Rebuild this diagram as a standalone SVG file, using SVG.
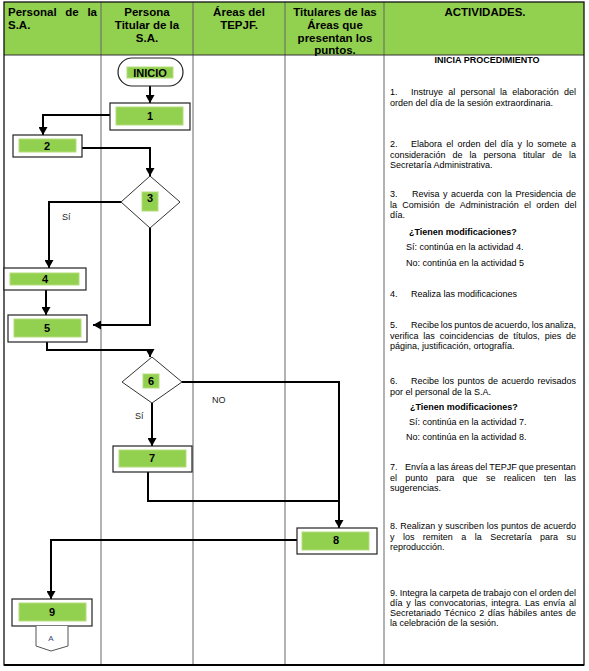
<svg xmlns="http://www.w3.org/2000/svg" width="589" height="671" viewBox="0 0 589 671">
<style>
.hdr{font-family:"Liberation Sans",Arial,sans-serif;font-weight:bold;font-size:11.5px;fill:#000}
.num{font-family:"Liberation Sans",Arial,sans-serif;font-weight:bold;font-size:11px;fill:#000;text-anchor:middle}
.act{font-family:"Liberation Sans",Arial,sans-serif;font-size:9px;fill:#000}
.actb{font-family:"Liberation Sans",Arial,sans-serif;font-size:9px;font-weight:bold;fill:#000}
.lbl{font-family:"Liberation Sans",Arial,sans-serif;font-size:9px;fill:#222}
.box{fill:#fff;stroke:#222;stroke-width:1.2}
.grn{fill:#92D050;stroke:#b5dc7c;stroke-width:1}
.conn{fill:none;stroke:#000;stroke-width:2}
.col{stroke:#666;stroke-width:1}
</style>
<defs>
<marker id="arr" markerUnits="userSpaceOnUse" markerWidth="9" markerHeight="9" refX="8" refY="4.5" orient="auto">
<path d="M0,0 L8,4.5 L0,9 z" fill="#000"/>
</marker>
</defs>
<rect x="0" y="0" width="589" height="671" fill="#fff"/>
<g id="table">
<rect x="4" y="2" width="580" height="53" fill="#92D050"/>
<line class="col" x1="101" y1="2" x2="101" y2="665"/>
<line class="col" x1="193" y1="2" x2="193" y2="665"/>
<line class="col" x1="285" y1="2" x2="285" y2="665"/>
<line class="col" x1="384" y1="2" x2="384" y2="665"/>
<line x1="4" y1="55" x2="584" y2="55" stroke="#333" stroke-width="1"/>
<rect x="4" y="2" width="580" height="663" fill="none" stroke="#111" stroke-width="1.3"/>
<line x1="4" y1="665" x2="584" y2="665" stroke="#000" stroke-width="2"/>
<text class="hdr" x="8" y="16" word-spacing="5.5">Personal de la</text>
<text class="hdr" x="8" y="29">S.A.</text>
<text class="hdr" x="147" y="16" text-anchor="middle">Persona</text>
<text class="hdr" x="147" y="29" text-anchor="middle">Titular de la</text>
<text class="hdr" x="147" y="42" text-anchor="middle">S.A.</text>
<text class="hdr" x="239" y="16" text-anchor="middle">Áreas del</text>
<text class="hdr" x="239" y="29" text-anchor="middle">TEPJF.</text>
<text class="hdr" x="335" y="16" text-anchor="middle">Titulares de las</text>
<text class="hdr" x="335" y="29" text-anchor="middle">Áreas que</text>
<text class="hdr" x="335" y="42" text-anchor="middle">presentan los</text>
<text class="hdr" x="335" y="54" text-anchor="middle">puntos.</text>
<text class="hdr" x="485" y="16" text-anchor="middle">ACTIVIDADES.</text>
</g>
<g id="connectors">
<path class="conn" d="M150,86 V103" marker-end="url(#arr)"/>
<path class="conn" d="M110,115 H43 V135" marker-end="url(#arr)"/>
<path class="conn" d="M82,148 H150 V176" marker-end="url(#arr)"/>
<path class="conn" d="M121,202 H49 V268" marker-end="url(#arr)"/>
<path class="conn" d="M46,290 V315" marker-end="url(#arr)"/>
<path class="conn" d="M150,228 V325 H93" marker-end="url(#arr)"/>
<path class="conn" d="M47,342 V350 H150 V357" marker-end="url(#arr)"/>
<path class="conn" d="M182,382 H339 V528" marker-end="url(#arr)"/>
<path class="conn" d="M152,403 V446" marker-end="url(#arr)"/>
<path class="conn" d="M148,472 V501 H339"/>
<path class="conn" d="M297,540 H51 V599" marker-end="url(#arr)"/>
<text class="lbl" x="62" y="220">Sí</text>
<text class="lbl" x="135" y="419">Sí</text>
<text class="lbl" x="212" y="403">NO</text>
</g>
<g id="inicio">
<rect x="118" y="58" width="65" height="28" rx="14" class="box"/>
<rect x="127" y="67" width="46" height="11" class="grn"/>
<text class="num" x="150" y="77">INICIO</text>
</g>
<g id="n1">
<rect x="110" y="103" width="80" height="27" class="box"/>
<rect x="116" y="107" width="67" height="18" class="grn"/>
<text class="num" x="150" y="120">1</text>
</g>
<g id="n2">
<rect x="13" y="135" width="69" height="22" class="box"/>
<rect x="19" y="139" width="57" height="13" class="grn"/>
<text class="num" x="47" y="150">2</text>
</g>
<g id="n3">
<polygon points="150,176 180,202 150,228 121,202" fill="#fff" stroke="#333" stroke-width="1"/>
<rect x="142" y="192" width="16" height="19" class="grn"/>
<text class="num" x="150" y="202">3</text>
</g>
<g id="n4">
<rect x="4" y="268" width="82" height="22" class="box"/>
<rect x="10" y="273" width="69" height="12" class="grn"/>
<text class="num" x="45" y="283">4</text>
</g>
<g id="n5">
<rect x="8" y="315" width="79" height="27" class="box"/>
<rect x="14" y="319" width="67" height="18" class="grn"/>
<text class="num" x="47" y="332">5</text>
</g>
<g id="n6">
<polygon points="152,357 182,382 152,403 122,382" fill="#fff" stroke="#333" stroke-width="1"/>
<rect x="143" y="374" width="16" height="14" class="grn"/>
<text class="num" x="151" y="385">6</text>
</g>
<g id="n7">
<rect x="113" y="446" width="79" height="26" class="box"/>
<rect x="119" y="450" width="67" height="17" class="grn"/>
<text class="num" x="152" y="462">7</text>
</g>
<g id="n8">
<rect x="297" y="528" width="80" height="26" class="box"/>
<rect x="302" y="532" width="67" height="18" class="grn"/>
<text class="num" x="336" y="544">8</text>
</g>
<g id="n9">
<rect x="12" y="599" width="80" height="27" class="box"/>
<rect x="19" y="603" width="67" height="18" class="grn"/>
<text class="num" x="52" y="616">9</text>
</g>
<g id="offpage">
<path d="M36,626 V646 L51,651 L68,646 V626" fill="#fff" stroke="#555" stroke-width="1"/>
<text x="51" y="641" text-anchor="middle" font-family="Liberation Sans,Arial,sans-serif" font-size="8" fill="#3a4a7a">A</text>
</g>
<g id="activities">
<text class="actb" x="487" y="63" text-anchor="middle" font-size="8.6">INICIA PROCEDIMIENTO</text>
<text class="act" x="390" y="95">1.</text>
<text class="act" x="411" y="95" word-spacing="2.69">Instruye al personal la elaboración del</text>
<text class="act" x="390" y="106">orden del día de la sesión extraordinaria.</text>
<text class="act" x="390" y="147">2.</text>
<text class="act" x="411" y="147" word-spacing="1.68">Elabora el orden del día y lo somete a</text>
<text class="act" x="390" y="157.5" word-spacing="4.49">consideración de la persona titular de la</text>
<text class="act" x="390" y="168">Secretaría Administrativa.</text>
<text class="act" x="390" y="197">3.</text>
<text class="act" x="412" y="197" word-spacing="0.99">Revisa y acuerda con la Presidencia de</text>
<text class="act" x="390" y="207.5" word-spacing="2.73">la Comisión de Administración el orden del</text>
<text class="act" x="390" y="218">día.</text>
<text class="actb" x="409" y="235">¿Tienen modificaciones?</text>
<text class="act" x="406" y="250">Sí: continúa en la actividad 4.</text>
<text class="act" x="406" y="266">No: continúa en la actividad 5</text>
<text class="act" x="390" y="297">4.</text>
<text class="act" x="411" y="297">Realiza las modificaciones</text>
<text class="act" x="390" y="328">5.</text>
<text class="act" x="411" y="328" word-spacing="-0.68">Recibe los puntos de acuerdo, los analiza,</text>
<text class="act" x="390" y="338.5" word-spacing="2.32">verifica las coincidencias de títulos, pies de</text>
<text class="act" x="390" y="349">página, justificación, ortografía.</text>
<text class="act" x="390" y="384">6.</text>
<text class="act" x="411" y="384" word-spacing="0.99">Recibe los puntos de acuerdo revisados</text>
<text class="act" x="390" y="394.5">por el personal de la S.A.</text>
<text class="actb" x="410" y="410">¿Tienen modificaciones?</text>
<text class="act" x="409" y="425">Sí: continúa en la actividad 7.</text>
<text class="act" x="406" y="440">No: continúa en la actividad 8.</text>
<text class="act" x="390" y="470">7.</text>
<text class="act" x="405" y="470" word-spacing="-0.44">Envía a las áreas del TEPJF que presentan</text>
<text class="act" x="390" y="480.5" word-spacing="5.85">el punto para que se realicen ten las</text>
<text class="act" x="390" y="491">sugerencias.</text>
<text class="act" x="390" y="529" word-spacing="0.28">8. Realizan y suscriben los puntos de acuerdo</text>
<text class="act" x="390" y="539.5" word-spacing="5.92">y los remiten a la Secretaría para su</text>
<text class="act" x="390" y="550">reproducción.</text>
<text class="act" x="390" y="596" word-spacing="-0.34">9. Integra la carpeta de trabajo con el orden del</text>
<text class="act" x="390" y="606" word-spacing="1.2">día y las convocatorias, integra. Las envía al</text>
<text class="act" x="390" y="616" word-spacing="0.99">Secretariado Técnico 2 días hábiles antes de</text>
<text class="act" x="390" y="626">la celebración de la sesión.</text>
</g>
</svg>
